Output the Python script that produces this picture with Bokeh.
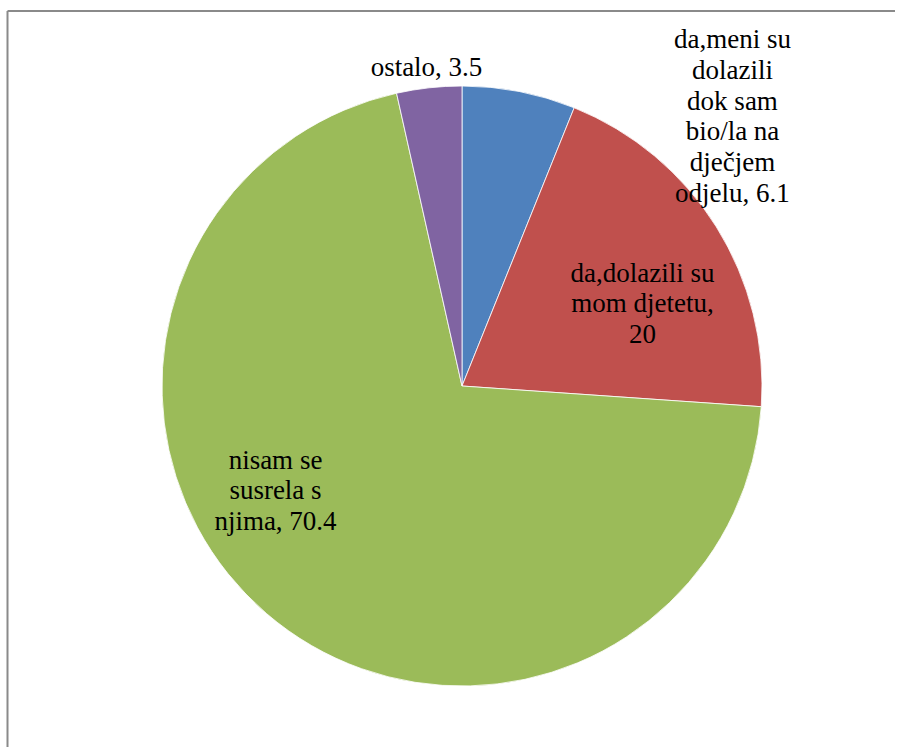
import math
from bokeh.plotting import figure
from bokeh.models import Range1d, ColumnDataSource
from bokeh.core.properties import value
from bokeh.embed import file_html
from bokeh.resources import INLINE

# ---- data ----
categories = [
    "da,meni su\ndolazili\ndok sam\nbio/la na\ndječjem\nodjelu",
    "da,dolazili su\nmom djetetu,\n",
    "nisam se\nsusrela s\nnjima",
    "ostalo",
]
values = [6.1, 20, 70.4, 3.5]
colors = ["#4F81BD", "#C0504D", "#9BBB59", "#8064A2"]

# ---- layout (pixels from the top-left of the picture) ----
W, H = 895, 747
cx, cy_screen, R = 461.5, 385.5, 300
label_pos_screen = [(732, 115.5), (642, 303), (275, 490), (426, 66)]


def sy(y):
    return H - y


p = figure(width=W, height=H, output_backend="svg", toolbar_location=None,
           x_range=Range1d(0, W), y_range=Range1d(0, H),
           min_border=0, outline_line_color=None)
p.axis.visible = False
p.grid.visible = False
p.background_fill_color = "white"
p.border_fill_color = "white"

total = sum(values)
starts, ends = [], []
acc = 0.0
for v in values:
    a0 = math.pi / 2 - 2 * math.pi * acc / total
    acc += v
    a1 = math.pi / 2 - 2 * math.pi * acc / total
    starts.append(a0)
    ends.append(a1)

src = ColumnDataSource(dict(x=[cx] * len(values), y=[sy(cy_screen)] * len(values),
                            start=starts, end=ends, color=colors))
p.wedge(x="x", y="y", radius=R, start_angle="start", end_angle="end",
        direction="clock", fill_color="color", line_color="white",
        line_width=0.8, source=src)

labels = []
for c, v in zip(categories, values):
    vs = f"{v:g}"
    if c.endswith("\n"):
        labels.append(c + vs)
    else:
        labels.append(c + ", " + vs)

lsrc = ColumnDataSource(dict(x=[q[0] for q in label_pos_screen],
                             y=[sy(q[1]) for q in label_pos_screen],
                             text=labels))
p.text(x="x", y="y", text="text", source=lsrc, text_align="center",
       text_baseline="middle", text_font=value("Liberation Serif"),
       text_font_size="27px", text_color="black", text_line_height=1.03)

# frame border (top and left visible)
p.segment(x0=[7, 7], y0=[sy(10.5), sy(10.5)], x1=[7, W], y1=[0, sy(10.5)],
          line_color="#8A8A8A", line_width=2)

open("out.html", "w").write(file_html(p, INLINE))
